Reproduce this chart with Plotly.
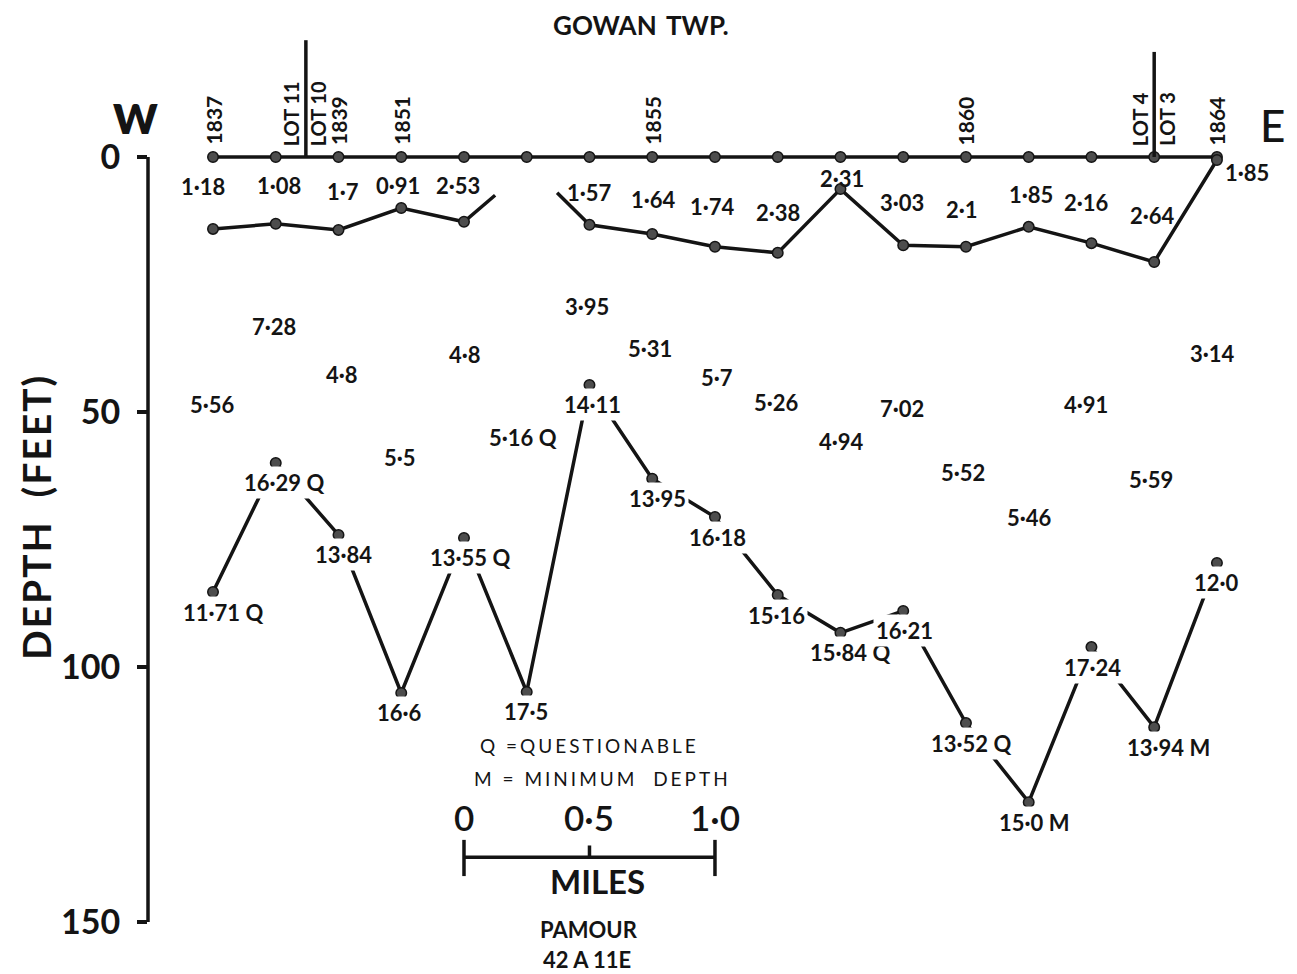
import plotly.graph_objects as go

# ---------------------------------------------------------------
# Seismic refraction cross-section, Gowan Twp. (depth in feet,
# distance in miles along the traverse, W -> E)
# ---------------------------------------------------------------
stations_mi = [0.0, 0.25, 0.5, 0.75, 1.0, 1.25, 1.5, 1.75, 2.0,
               2.25, 2.5, 2.75, 3.0, 3.25, 3.5, 3.75, 4.0]
surface_depth_ft = [0, 0, 0, 0, 0, 0, 0, 0, 0, 0, 0, 0, 0, 0, 0, 0, 0]

# base of the low-velocity surface layer
layer1_depth_ft = [14.1, 13.1, 14.3, 10.0, 12.7, None, 13.3, 15.1, 17.6,
                   18.8, 6.3, 17.3, 17.6, 13.7, 16.9, 20.6, 0.6]
# where that interface fades out around station 5
layer1_break_mi = [1.124, 1.371]
layer1_break_ft = [7.5, 7.0]

# bedrock surface
bedrock_depth_ft = [85.3, 60.0, 74.1, 105.1, 74.7, 104.9, 44.7, 63.1, 70.6,
                    85.9, 93.3, 89.0, 111.0, 126.5, 96.1, 111.8, 79.6]

# velocities (thousand ft/s) for the three layers
v1_text = ["1·18", "1·08", "1·7", "0·91", "2·53", "", "1·57", "1·64", "1·74",
           "2·38", "2·31", "3·03", "2·1", "1·85", "2·16", "2·64", "1·85"]
v2_text = ["5·56", "7·28", "4·8", "5·5", "4·8", "5·16 Q", "3·95", "5·31", "5·7",
           "5·26", "4·94", "7·02", "5·52", "5·46", "4·91", "5·59", "3·14"]
v3_text = ["11·71 Q", "16·29 Q", "13·84", "16·6", "13·55 Q", "17·5", "14·11",
           "13·95", "16·18", "15·16", "15·84 Q", "16·21", "13·52 Q", "15·0 M",
           "17·24", "13·94 M", "12·0"]

wells = ["1837", "1839", "1851", "1855", "1860", "1864"]
well_station = [0, 2, 3, 7, 12, 16]

lot_line_mi = [0.37, 3.75]
lot_line_top_ft = [-22.9, -20.6]
lot_west_labels = ["LOT 11", "LOT 4"]
lot_east_labels = ["LOT 10", "LOT 3"]

depth_ticks = [0, 50, 100, 150]
scale_ticks_mi = [0.0, 0.5, 1.0]
scale_labels = ["0", "0·5", "1·0"]

# ---------------- label placement (pixels / feet) ----------------
v1_shift = [(-10, 42), (3, 38), (4, 38), (-3, 22), (-6, 36), (0, 0), (0, 32),
            (1, 34), (-2, 40), (0, 40), (2, 11), (-1, 43), (-4, 37), (2, 32),
            (-5, 41), (-2, 47), (30, -12)]
v2_label_ft = [48.6, 33.3, 42.7, 59.0, 38.8, 55.1, 29.4, 37.6, 43.3,
               48.2, 55.7, 49.4, 61.8, 70.6, 48.6, 63.3, 38.6]
v2_xshift = [-1, -2, 3, -1, 1, -4, -2, -2, 2, -1, 1, -1, -3, 1, -5, -3, -4]
v3_xshift = [10, 8, 5, -2, 6, -1, 3, 5, 3, -1, 10, 1, 5, 5, 1, 14, 0]

FONT = "Lato"
INK = "#141414"
DOT = "#4d4d4d"
LW = 3.5
X_RANGE = [-0.259, 4.319]
Y_RANGE = [160.2, -30.78]
PLOT_LEFT_PX, PLOT_W_PX = 148, 1149
scale_origin_mi = stations_mi[4]
scale_bar_ft = 137.3

fig = go.Figure()

marker = dict(size=10.5, color=DOT, line=dict(width=1.5, color=INK))

# ground surface
fig.add_trace(go.Scatter(x=stations_mi, y=surface_depth_ft, mode="lines+markers",
                         line=dict(color=INK, width=LW), marker=marker,
                         cliponaxis=False, hoverinfo="skip"))

# shallow interface, broken near station 5
l1_x = stations_mi[:5] + [layer1_break_mi[0], None, layer1_break_mi[1]] + stations_mi[6:]
l1_y = layer1_depth_ft[:5] + [layer1_break_ft[0], None, layer1_break_ft[1]] + layer1_depth_ft[6:]
fig.add_trace(go.Scatter(x=l1_x, y=l1_y, mode="lines", connectgaps=False,
                         line=dict(color=INK, width=LW), hoverinfo="skip"))
fig.add_trace(go.Scatter(x=stations_mi, y=layer1_depth_ft, mode="markers",
                         marker=marker, hoverinfo="skip"))

# bedrock
fig.add_trace(go.Scatter(x=stations_mi, y=bedrock_depth_ft, mode="lines+markers",
                         line=dict(color=INK, width=LW), marker=marker,
                         hoverinfo="skip"))

ann = []

def label(text, x, y, size=22, weight=700, **kw):
    d = dict(text=text, x=x, y=y, xref="x", yref="y", showarrow=False,
             font=dict(family=FONT, size=size, color=INK, weight=weight))
    d.update(kw)
    ann.append(d)

for i, s in enumerate(stations_mi):
    if v1_text[i]:
        dx, dy = v1_shift[i]
        label(v1_text[i], s, layer1_depth_ft[i], xshift=dx, yshift=dy)
    label(v2_text[i], s, v2_label_ft[i], xshift=v2_xshift[i])
    label(v3_text[i], s, bedrock_depth_ft[i], xshift=v3_xshift[i], yshift=-20,
          bgcolor="white", borderpad=2)

for name, k in zip(wells, well_station):
    label(name, stations_mi[k], surface_depth_ft[k], size=21, textangle=-90,
          yanchor="bottom", yshift=10)

for xm, top, west, east in zip(lot_line_mi, lot_line_top_ft, lot_west_labels, lot_east_labels):
    fig.add_shape(type="line", x0=xm, x1=xm, y0=0, y1=top, xref="x", yref="y",
                  line=dict(color=INK, width=LW))
    label(west, xm, 0, size=20, textangle=-90, yanchor="bottom", yshift=9, xshift=-14)
    label(east, xm, 0, size=20, textangle=-90, yanchor="bottom", yshift=9, xshift=13)

# depth axis spine
fig.add_shape(type="line", x0=0, x1=0, xref="paper", y0=depth_ticks[0],
              y1=depth_ticks[-1], yref="y", line=dict(color=INK, width=LW))

# scale bar
fig.add_shape(type="line", x0=scale_origin_mi + scale_ticks_mi[0],
              x1=scale_origin_mi + scale_ticks_mi[-1], y0=scale_bar_ft, y1=scale_bar_ft,
              xref="x", yref="y", line=dict(color=INK, width=LW))
for t, lab in zip(scale_ticks_mi, scale_labels):
    end = t in (scale_ticks_mi[0], scale_ticks_mi[-1])
    fig.add_shape(type="line", x0=scale_origin_mi + t, x1=scale_origin_mi + t,
                  y0=133.9 if end else 135.0, y1=141.0 if end else scale_bar_ft,
                  xref="x", yref="y", line=dict(color=INK, width=LW))
    label(lab, scale_origin_mi + t, 129.4, size=35, weight=600)
label("MILES", scale_origin_mi + 0.53, 142.0, size=33)
label("PAMOUR", scale_origin_mi + 0.5, 151.5, size=22, borderpad=0)
label("42 A 11E", scale_origin_mi + 0.49, 157.3, size=22, borderpad=0)

spaced = '<span style="letter-spacing:{}px">{}</span>'
label(spaced.format(3, "Q =QUESTIONABLE"), scale_origin_mi + 0.5, 115.3, size=19, weight=400)
label(spaced.format(3, "M = MINIMUM  DEPTH"), scale_origin_mi + 0.55, 121.9, size=19, weight=400)

# headings
label("GOWAN", 1.56, -25.9, size=26)
label("TWP.", 1.93, -25.9, size=26)
ann.append(dict(text="W", x=(135 - PLOT_LEFT_PX) / PLOT_W_PX, y=-7.6, xref="paper", yref="y",
                xanchor="center", showarrow=False,
                font=dict(family=FONT, size=42, color=INK, weight=800)))
label("E", 4.22, -6.3, size=44, weight=500)
ann.append(dict(text=spaced.format(2, "DEPTH  (FEET)"), x=(36 - PLOT_LEFT_PX) / PLOT_W_PX,
                y=70.6, xref="paper", yref="y", xanchor="center", yanchor="middle",
                textangle=-90, showarrow=False,
                font=dict(family=FONT, size=39, color=INK, weight=700)))

fig.update_layout(
    width=1297, height=974, margin=dict(l=PLOT_LEFT_PX, r=0, t=0, b=0),
    paper_bgcolor="white", plot_bgcolor="white", showlegend=False,
    annotations=ann,
    xaxis=dict(range=X_RANGE, visible=False, fixedrange=True),
    yaxis=dict(range=Y_RANGE, tickvals=depth_ticks, ticks="outside", ticklen=10,
               tickwidth=LW, tickcolor=INK, showgrid=False, zeroline=False,
               showline=False, ticklabelstandoff=10, fixedrange=True,
               tickfont=dict(family=FONT, size=34, color=INK, weight=700)),
)

fig.write_html("out.html")
